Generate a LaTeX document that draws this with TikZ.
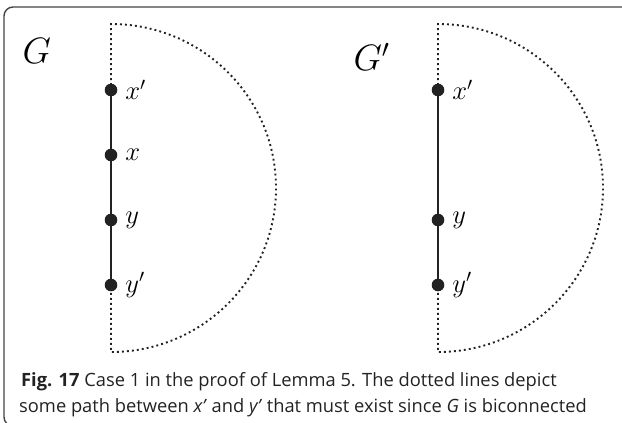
\documentclass[tikz,border=0pt]{standalone}
\usepackage{fontspec}
\setsansfont{Open Sans}
\usetikzlibrary{calc, positioning}

\definecolor{ink}{HTML}{222222}
\definecolor{framegray}{HTML}{444444}

\tikzset{
  vertex/.style={fill=ink},
  path/.style={line width=1.8pt, draw=ink},
  dottedpath/.style={line width=1.9pt, draw=ink, dash pattern=on 1.9pt off 3.1pt},
  lbl/.style={anchor=west, inner sep=0pt, xshift=14pt, font=\Large, scale=1.85, transform shape},
  glabel/.style={anchor=south west, inner sep=0pt, font=\Large, scale=2.55, transform shape},
  captext/.style={anchor=base west, inner sep=0pt, text=ink, font=\sffamily\fontsize{18.3}{20}\selectfont}
}

\begin{document}
\begin{tikzpicture}[x=1pt, y=-1pt]
      \clip (0,0) rectangle (622,423);

      % frame
      \draw[line width=1.4pt, framegray, rounded corners=9pt] (630,7) -- (4,7) -- (4,426) -- (40,426);

      % left graph G
      \coordinate (topL) at (111,24);
      \coordinate (botL) at (111,352);
      \coordinate (xpL) at (111,90);
      \coordinate (xL) at (111,155);
      \coordinate (yL) at (111,220);
      \coordinate (ypL) at (111,285);

      \draw[dottedpath] (xpL) -- (topL) arc[start angle=-90, end angle=90, x radius=165, y radius=164] -- (ypL);
      \draw[path] (xpL) -- (xL) -- (yL) -- (ypL);

      \fill[vertex] (xpL) circle (6.3pt);
      \fill[vertex] (xL) circle (6.3pt);
      \fill[vertex] (yL) circle (6.3pt);
      \fill[vertex] (ypL) circle (6.3pt);

      \node (lxpL) [lbl] at (xpL) {$x'$};
      \node (lxL) [lbl] at (xL) {$x$};
      \node (lyL) [lbl] at (yL) {$y$};
      \node (lypL) [lbl] at (ypL) {$y'$};
      \node (nameL) [glabel] at (22,64) {$G$};

      % right graph G'
      \coordinate (topR) at (438,24);
      \coordinate (botR) at (438,352);
      \coordinate (xpR) at (438,90);
      \coordinate (yR) at (438,220);
      \coordinate (ypR) at (438,285);

      \draw[dottedpath] (xpR) -- (topR) arc[start angle=-90, end angle=90, x radius=165, y radius=164] -- (ypR);
      \draw[path] (xpR) -- (yR) -- (ypR);

      \fill[vertex] (xpR) circle (6.3pt);
      \fill[vertex] (yR) circle (6.3pt);
      \fill[vertex] (ypR) circle (6.3pt);

      \node (lxpR) [lbl] at (xpR) {$x'$};
      \node (lyR) [lbl] at (yR) {$y$};
      \node (lypR) [lbl] at (ypR) {$y'$};
      \node (nameR) [glabel] at (353,71) {$G'$};

      % caption
      \node (capA) [captext] at (21,386) {\textbf{Fig. 17} Case 1 in the proof of Lemma 5. The dotted lines depict};
      \node (capB) [captext] at (19,412) {some path between \textit{x'} and \textit{y'} that must exist since \textit{G} is biconnected};
    \end{tikzpicture}
\end{document}
